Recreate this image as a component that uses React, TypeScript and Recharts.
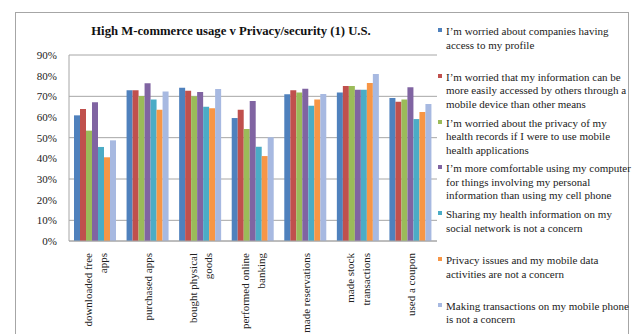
import React from "react";
import { BarChart, Bar, XAxis, YAxis, CartesianGrid, Legend } from "recharts";

const categories = [
  "downloaded free\napps",
  "purchased apps",
  "bought physical\ngoods",
  "performed online\nbanking",
  "made reservations",
  "made stock\ntransactions",
  "used a coupon",
];

const seriesNames = [
  "I’m worried about companies having\naccess to my profile",
  "I’m worried that my information can be\nmore easily accessed by others through a\nmobile device than other means",
  "I’m worried about the privacy of my\nhealth records if I were to use mobile\nhealth applications",
  "I’m more comfortable using my computer\nfor things involving my personal\ninformation than using my cell phone",
  "Sharing my health information on my\nsocial network is not a concern",
  "Privacy issues and my mobile data\nactivities are not a concern",
  "Making transactions on my mobile phone\nis not a concern",
];

const worriedProfile = [60.8, 72.9, 74.2, 59.5, 71.0, 71.8, 69.2];
const worriedAccess = [63.9, 72.9, 72.7, 63.5, 72.9, 75.0, 67.4];
const worriedHealth = [53.4, 70.2, 70.0, 54.2, 71.8, 75.0, 68.5];
const comfortableComputer = [67.1, 76.3, 72.1, 67.7, 73.7, 73.2, 74.4];
const sharingHealth = [45.5, 68.5, 65.0, 45.6, 65.5, 73.2, 59.0];
const privacyNotConcern = [40.5, 63.5, 64.2, 41.1, 68.5, 76.5, 62.4];
const transactionsNotConcern = [48.7, 72.3, 73.5, 50.2, 71.1, 80.8, 66.3];

const seriesValues = [
  worriedProfile,
  worriedAccess,
  worriedHealth,
  comfortableComputer,
  sharingHealth,
  privacyNotConcern,
  transactionsNotConcern,
];

const colors = ["#4F81BD", "#C0504D", "#9BBB59", "#8064A2", "#4BACC6", "#F79646", "#A7B9E1"];

const yTicks = [0, 10, 20, 30, 40, 50, 60, 70, 80, 90];

const data = categories.map((c, i) => {
  const row: Record<string, any> = { name: c };
  seriesValues.forEach((vals, s) => {
    row["s" + s] = vals[i];
  });
  return row;
});

const FONT = "'Liberation Serif', 'Times New Roman', serif";

const CatTick = (props: any) => {
  const { x, y, payload } = props;
  const lines = String(payload.value).split("\n");
  const n = lines.length;
  return (
    <g transform={`translate(${x},${y + 4}) rotate(-90)`}>
      {lines.map((l, i) => (
        <text
          key={i}
          x={0}
          y={(i - (n - 1) / 2) * 15.5}
          textAnchor="end"
          dominantBaseline="central"
          fontFamily={FONT}
          fontSize={11}
          fill="#222"
        >
          {l}
        </text>
      ))}
    </g>
  );
};

const LegendContent = () => (
  <div style={{ position: "relative", width: 636, height: 334, pointerEvents: "none" }}>
    {seriesNames.map((name, i) => (
      <div
        key={i}
        style={{
          position: "absolute",
          left: 438,
          top: 25 + i * 45.8,
          width: 200,
        }}
      >
        <div
          style={{
            position: "absolute",
            left: 0,
            top: 3,
            width: 4,
            height: 4,
            background: colors[i],
          }}
        />
        <div
          style={{
            position: "absolute",
            left: 8,
            top: 0,
            fontFamily: FONT,
            fontSize: 11,
            lineHeight: "13.5px",
            color: "#222",
            whiteSpace: "pre",
          }}
        >
          {name}
        </div>
      </div>
    ))}
  </div>
);

export default function App() {
  return (
    <div style={{ position: "absolute", left: 0, top: 0, width: 636, height: 334, background: "#fff", overflow: "hidden" }}>
      <div
        style={{
          position: "absolute",
          left: 15,
          top: 12,
          width: 614,
          height: 340,
          border: "1px solid #a6a6a6",
          boxSizing: "border-box",
        }}
      />
      <div
        style={{
          position: "absolute",
          left: 0,
          top: 24,
          width: 462,
          textAlign: "center",
          fontFamily: FONT,
          fontWeight: "bold",
          fontSize: 12.7,
          color: "#111",
        }}
      >
        High M-commerce usage v Privacy/security (1) U.S.
      </div>
      <div style={{ position: "absolute", left: 0, top: 0 }}>
        <BarChart
          width={636}
          height={334}
          data={data}
          margin={{ top: 55, right: 199, bottom: 0, left: 15 }}
          barGap={0}
          barCategoryGap={5}
        >
          <CartesianGrid vertical={false} stroke="#a6a6a6" strokeWidth={1} />
          <XAxis
            dataKey="name"
            interval={0}
            tickLine={false}
            axisLine={{ stroke: "#a6a6a6" }}
            tick={<CatTick />}
            height={93}
          />
          <YAxis
            domain={[0, 90]}
            ticks={yTicks}
            width={54}
            tickLine={false}
            tickSize={0}
            tickMargin={12}
            axisLine={{ stroke: "#a6a6a6" }}
            tickFormatter={(v: number) => `${v}%`}
            tick={{ fontFamily: FONT, fontSize: 11, fill: "#222" }}
          />
          <Legend
            layout="vertical"
            align="center"
            verticalAlign="middle"
            content={<LegendContent />}
            wrapperStyle={{ position: "absolute", left: 0, top: 0, width: 636, height: 334 }}
          />
          {seriesValues.map((_, s) => (
            <Bar
              key={s}
              dataKey={"s" + s}
              name={seriesNames[s]}
              fill={colors[s]}
              isAnimationActive={false}
            />
          ))}
        </BarChart>
      </div>
    </div>
  );
}
